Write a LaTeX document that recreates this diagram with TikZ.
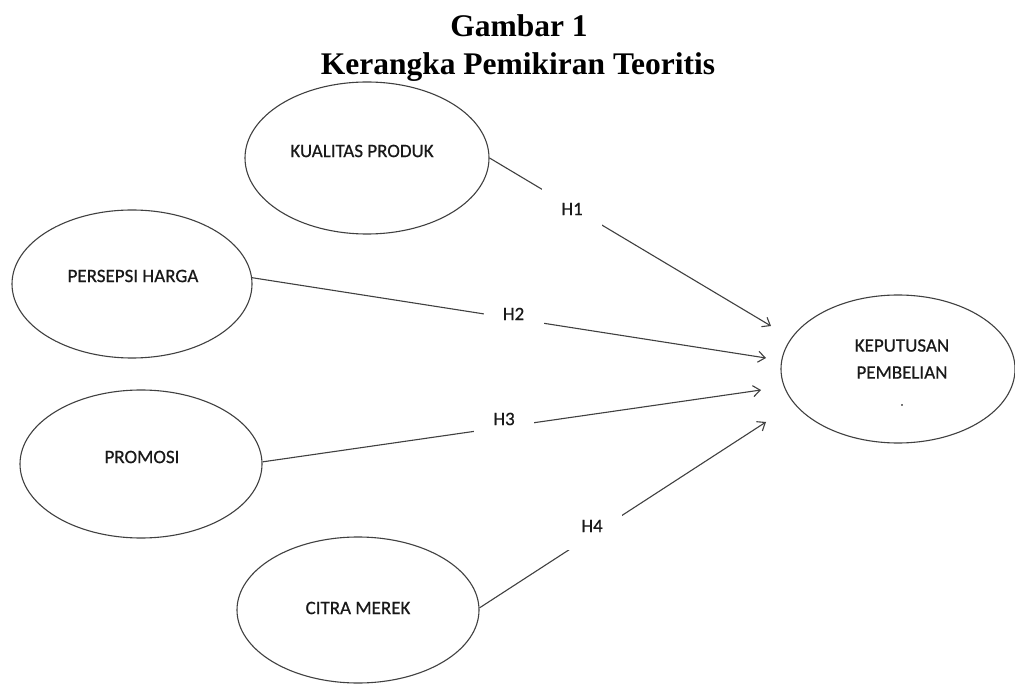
\documentclass[tikz,border=0pt]{standalone}
\usepackage{fontspec}
\newfontfamily\carlito[FakeBold=0.6]{Carlito}
\newfontfamily\titleserif{Liberation Serif}
\usetikzlibrary{arrows.meta,shapes.geometric}
\begin{document}
\begin{tikzpicture}[x=1pt,y=-1pt,
  ell/.style={draw=black!75, line width=1.1pt, ellipse, inner sep=0pt},
  lbl/.style={font=\carlito\fontsize{19}{27}\selectfont, text=black!90, inner sep=0pt},
  hbox/.style={fill=white, minimum width=60pt, minimum height=48pt, inner sep=0pt,
               font=\carlito\fontsize{19}{27}\selectfont, text=black!90},
  arr/.style={draw=black!75, line width=1.1pt, -{Straight Barb[length=7pt,width=11pt]}},
  ttl/.style={font=\titleserif\bfseries\fontsize{31.5}{37}\selectfont, anchor=base, inner sep=0pt}]
\useasboundingbox (0,0) rectangle (1015,684);
\fill[white] (0,0) rectangle (1015,684);

% title
\node[ttl] (t1line) at (519,37) {Gambar 1};
\node[ttl] (t2line) at (518,75) {Kerangka Pemikiran Teoritis};

% ellipses
\node[ell, minimum width=244pt, minimum height=152pt] (kp) at (367,158) {};
\node[ell, minimum width=240pt, minimum height=148pt] (ph) at (132,284) {};
\node[ell, minimum width=242pt, minimum height=148pt] (pr) at (141,464) {};
\node[ell, minimum width=242pt, minimum height=146pt] (cm) at (358,610) {};
\node[ell, minimum width=234pt, minimum height=148pt] (kep) at (898,369) {};

% arrow tips
\coordinate (tip1) at (771,326);
\coordinate (tip2) at (766,358);
\coordinate (tip3) at (761,390);
\coordinate (tip4) at (766,422);

% connectors
\draw[arr] (kp.east) -- (tip1);
\draw[arr] (ph.3) -- (tip2);
\draw[arr] (pr.1) -- (tip3);
\draw[arr] (cm.1) -- (tip4);

% hypothesis labels
\node[hbox] (h1) at (572,209) {H1};
\node[hbox] (h2) at (513.5,314) {H2};
\node[hbox] (h3) at (504,419) {H3};
\node[hbox] (h4) at (592,526) {H4};

% ellipse texts
\node[lbl] (kpt) at (362,151) {KUALITAS PRODUK};
\node[lbl] (pht) at (133,276) {PERSEPSI HARGA};
\node[lbl] (prt) at (142,457) {PROMOSI};
\node[lbl] (cmt) at (358,608) {CITRA MEREK};
\node[lbl, align=center] (kept) at (902,372.5) {KEPUTUSAN\\PEMBELIAN\\{\fontsize{12}{12}\selectfont .}};
\end{tikzpicture}
\end{document}
